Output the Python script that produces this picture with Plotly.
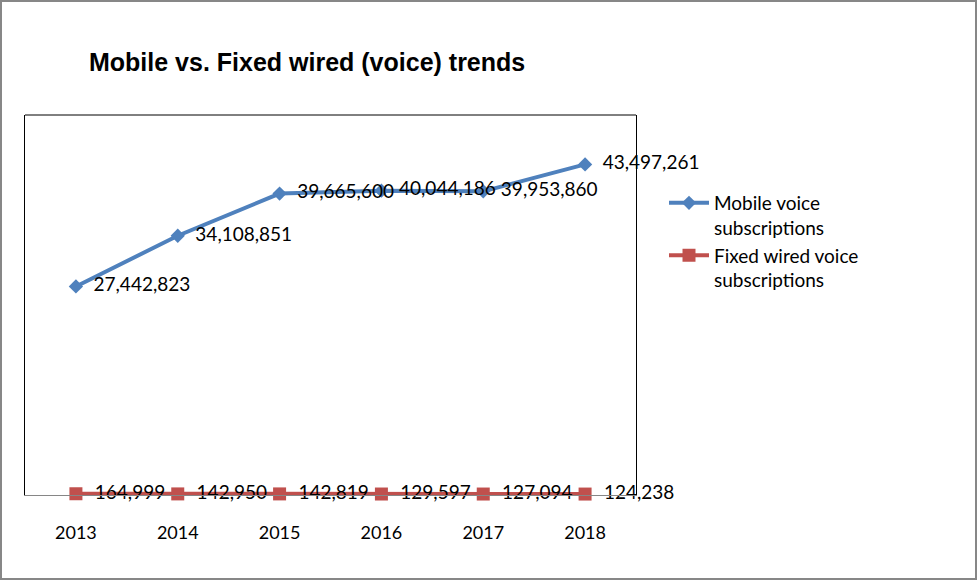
import plotly.graph_objects as go

years = ["2013", "2014", "2015", "2016", "2017", "2018"]
mobile = [27442823, 34108851, 39665600, 40044186, 39953860, 43497261]
fixed = [164999, 142950, 142819, 129597, 127094, 124238]
mobile_name = "Mobile voice<br>subscriptions"
fixed_name = "Fixed wired voice<br>subscriptions"
title_text = "Mobile vs. Fixed wired (voice) trends"

W, H = 978, 581
L, R, T, B = 25, 636, 115, 495

FONT = "Lato, Calibri, sans-serif"
lab_font = dict(family=FONT, size=19, color="#000000")
PAD = "\u00a0\u00a0"

fig = go.Figure()
fig.add_trace(go.Scatter(
    x=years, y=mobile, name=mobile_name, mode="lines+markers+text",
    line=dict(color="#4F81BD", width=4),
    marker=dict(symbol="diamond", size=11, color="#4F81BD"),
    text=[PAD + f"{v:,}" for v in mobile], textposition="middle right",
    textfont=lab_font, cliponaxis=False,
))
fig.add_trace(go.Scatter(
    x=years, y=fixed, name=fixed_name, mode="lines+markers+text",
    line=dict(color="#C0504D", width=4),
    marker=dict(symbol="square", size=13, color="#C0504D"),
    text=[PAD + f"{v:,}" for v in fixed], textposition="middle right",
    textfont=lab_font, cliponaxis=False,
))

def px_x(p):
    return (p - L) / (R - L)

def px_y(p):
    return (B - p) / (B - T)

shapes = [
    # outer chart border
    dict(type="rect", xref="paper", yref="paper",
         x0=px_x(1), x1=px_x(976), y0=px_y(579), y1=px_y(1),
         line=dict(color="#878787", width=2), layer="below"),
    # top border of plot area
    dict(type="line", xref="paper", yref="paper", x0=0, x1=1, y0=1, y1=1,
         line=dict(color="#000000", width=1)),
]

fig.update_layout(
    width=W, height=H,
    margin=dict(l=L, r=W - R, t=T, b=H - B, pad=0),
    paper_bgcolor="white", plot_bgcolor="white",
    title=dict(text=title_text, x=89 / W, xanchor="left",
               y=1 - 62 / H, yanchor="middle",
               font=dict(family="Liberation Sans, Arial, sans-serif", size=25,
                         color="#000000", weight="bold")),
    xaxis=dict(type="category", range=[-0.5, 5.5], showgrid=False,
               showline=True, linecolor="#868686", linewidth=1,
               ticks="outside", ticklen=21, tickcolor="rgba(0,0,0,0)",
               tickfont=dict(family=FONT, size=18, color="#000000"),
               zeroline=False, fixedrange=True),
    yaxis=dict(range=[0, 50000000], showgrid=False, showticklabels=False,
               showline=True, mirror=True, linecolor="#000000", linewidth=1,
               zeroline=False, ticks=""),
    legend=dict(x=px_x(664), y=px_y(184), xanchor="left", yanchor="top",
                valign="top", font=dict(family=FONT, size=19, color="#000000"),
                tracegroupgap=0, itemwidth=40, bgcolor="rgba(0,0,0,0)"),
    shapes=shapes,
    showlegend=True,
)

fig.write_html("out.html", post_script="document.body.style.margin='0';",
               config={"displayModeBar": False})
